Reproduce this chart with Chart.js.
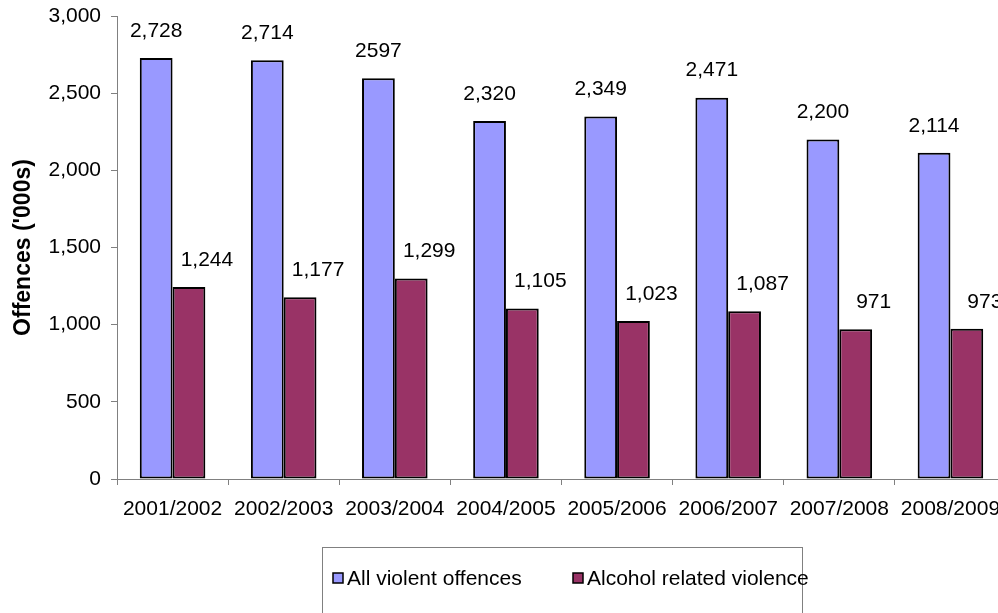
<!DOCTYPE html>
<html>
<head>
<meta charset="utf-8">
<script src="https://cdn.jsdelivr.net/npm/chart.js@4"></script>
<style>
html,body{margin:0;padding:0;background:#fff;overflow:hidden;width:998px;height:613px;}
canvas{display:block;}
</style>
</head>
<body>
<canvas id="c" width="1010" height="613"></canvas>
<script>
const categories = ["2001/2002","2002/2003","2003/2004","2004/2005","2005/2006","2006/2007","2007/2008","2008/2009"];
const allViolent = [2728, 2714, 2597, 2320, 2349, 2471, 2200, 2114];
const alcoholRelated = [1244, 1177, 1299, 1105, 1023, 1087, 971, 973];
const allViolentLabels = ["2,728","2,714","2597","2,320","2,349","2,471","2,200","2,114"];
const alcoholLabels = ["1,244","1,177","1,299","1,105","1,023","1,087","971","973"];
const seriesNames = ["All violent offences", "Alcohol related violence"];
const yTicks = [0, 500, 1000, 1500, 2000, 2500, 3000];

const FONT = "'Liberation Sans', Arial, sans-serif";
const fmt = v => v.toLocaleString('en-US');

const labelTexts = [allViolentLabels, alcoholLabels];
const labelShift = [0, 18];

const dataLabelPlugin = {
  id: 'dataLabels',
  afterDatasetsDraw(chart) {
    const ctx = chart.ctx;
    ctx.save();
    ctx.font = "21px " + FONT;
    ctx.fillStyle = '#000';
    ctx.textAlign = 'center';
    ctx.textBaseline = 'middle';
    chart.data.datasets.forEach((ds, di) => {
      const meta = chart.getDatasetMeta(di);
      meta.data.forEach((bar, i) => {
        ctx.fillText(labelTexts[di][i], bar.x + labelShift[di], bar.y - 27);
      });
    });
    ctx.restore();
  }
};

const boxLegendPlugin = {
  id: 'boxLegend',
  afterDraw(chart) {
    const ctx = chart.ctx;
    ctx.save();
    ctx.strokeStyle = '#808080';
    ctx.lineWidth = 1;
    ctx.strokeRect(322.5, 547.5, 480, 80);
    ctx.font = "21px " + FONT;
    ctx.textBaseline = 'middle';
    ctx.textAlign = 'left';
    const xs = [333, 573];
    chart.data.datasets.forEach((ds, di) => {
      const x = xs[di];
      ctx.fillStyle = ds.backgroundColor;
      ctx.fillRect(x, 573, 10, 10);
      ctx.strokeStyle = '#000';
      ctx.lineWidth = 1.5;
      ctx.strokeRect(x, 573, 10, 10);
      ctx.fillStyle = '#000';
      ctx.fillText(ds.label, x + 14, 579);
    });
    ctx.restore();
  }
};

new Chart(document.getElementById('c'), {
  type: 'bar',
  data: {
    labels: categories,
    datasets: [
      { label: seriesNames[0], data: allViolent, backgroundColor: '#9999FF', borderColor: '#000', borderWidth: 2, borderSkipped: false },
      { label: seriesNames[1], data: alcoholRelated, backgroundColor: '#993366', borderColor: '#000', borderWidth: 2, borderSkipped: false }
    ]
  },
  options: {
    responsive: false,
    devicePixelRatio: 1,
    animation: false,
    layout: { padding: { top: 16, left: 0, right: 4, bottom: 74 } },
    datasets: { bar: { categoryPercentage: 0.59, barPercentage: 1.0 } },
    plugins: { legend: { display: false }, tooltip: { enabled: false } },
    scales: {
      x: {
        offset: true,
        grid: { display: true, offset: true, drawOnChartArea: false, drawTicks: true, tickLength: 6, color: '#808080' },
        border: { display: true, color: '#808080', width: 1 },
        ticks: { color: '#000', font: { family: FONT, size: 21 }, padding: 12, maxRotation: 0, autoSkip: false },
        afterFit(s) { s.height = 60; s.paddingLeft = 0; s.paddingRight = 0; }
      },
      y: {
        min: 0, max: 3000,
        afterBuildTicks(s) { s.ticks = yTicks.map(v => ({ value: v })); },
        grid: { display: true, drawOnChartArea: false, drawTicks: true, tickLength: 6, color: '#808080' },
        border: { display: true, color: '#808080', width: 1 },
        ticks: { color: '#000', font: { family: FONT, size: 21 }, padding: 10, callback: v => fmt(v) },
        title: { display: true, text: "Offences ('000s)", color: '#000', font: { family: FONT, size: 23, weight: 'bold' }, padding: { top: 10, bottom: 0 } },
        afterFit(s) { s.width = 117; s.paddingTop = 0; s.paddingBottom = 0; }
      }
    }
  },
  plugins: [dataLabelPlugin, boxLegendPlugin]
});
</script>
</body>
</html>
